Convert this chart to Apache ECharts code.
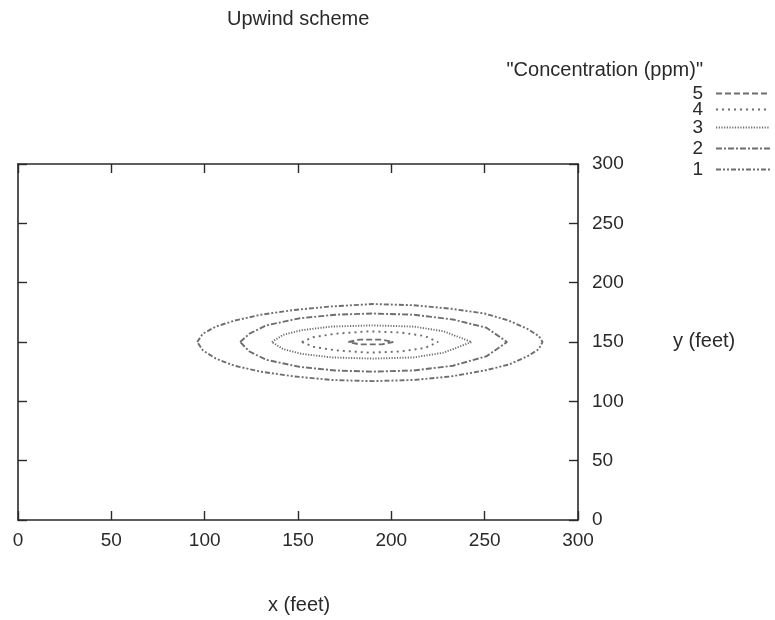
<!DOCTYPE html>
<html>
<head>
<meta charset="utf-8">
<title>Upwind scheme</title>
<script src="https://cdn.jsdelivr.net/npm/echarts@6/dist/echarts.min.js"></script>
<style>
  html, body { margin: 0; padding: 0; background: #ffffff; }
  #chart { width: 775px; height: 620px; }
</style>
</head>
<body>
<div id="chart"></div>
<script>
// Contour levels of concentration (ppm), listed as in the key
const levels = ['5', '4', '3', '2', '1'];

// Contour polylines, [x (feet), y (feet)]
const contour1 = [[96,150],[99,157],[106,163],[116,168],[130,173],[148,177],[168,180],[190,182],[212,181],[232,178],[250,174],[263,168],[273,161],[279,155],[281,150],[279,144],[273,138],[263,131],[250,126],[232,121],[212,118],[190,117],[168,118],[148,121],[130,125],[116,130],[106,136],[99,143],[96,150]];
const contour2 = [[119,150],[124,157],[133,164],[151,170],[170,173],[190,174],[212,173],[233,169],[251,162],[262,150],[251,138],[233,130],[212,126],[190,125],[170,126],[151,129],[133,135],[124,142],[119,150]];
const contour3 = [[136,150],[142,156],[152,160],[168,163],[190,164],[212,163],[228,159],[243,150],[228,141],[212,137],[190,136],[168,137],[152,140],[142,144],[136,150]];
const contour4 = [[152,150],[158,154],[170,157],[188,159],[205,158],[218,155],[225,150],[218,145],[205,142],[188,141],[170,143],[158,146],[152,150]];
const contour5 = [[177,150],[183,152],[195,152],[201,150],[195,148],[183,148],[177,150]];

// Axis ticks
const xTicks = [0, 50, 100, 150, 200, 250, 300];
const yTicks = [0, 50, 100, 150, 200, 250, 300];

const contours = { '1': contour1, '2': contour2, '3': contour3, '4': contour4, '5': contour5 };

// Dash pattern per level
const dashes = {
  '5': [6, 3],
  '4': [2, 4],
  '3': [1.2, 1.5],
  '2': [6, 2, 2, 2],
  '1': [5, 2, 2, 2, 2, 2]
};

const FONT = 'Liberation Sans, Arial, Helvetica, sans-serif';
const INK = '#2a2a2a';
const LINE = '#6e6e6e';

const chart = echarts.init(document.getElementById('chart'), null, { renderer: 'canvas' });

function valueAxis(ticks, position, showLabel) {
  return {
    type: 'value',
    position: position,
    min: ticks[0],
    max: ticks[ticks.length - 1],
    interval: ticks[1] - ticks[0],
    splitLine: { show: false },
    axisLine: { show: true, onZero: false, lineStyle: { color: INK, width: 1.6 } },
    axisTick: { show: true, inside: true, length: 9, lineStyle: { color: INK, width: 1.4 } },
    axisLabel: showLabel
      ? { show: true, fontFamily: FONT, fontSize: 19, color: INK, margin: position === 'right' ? 14 : 11 }
      : { show: false }
  };
}

// Vertical position (px) of each key row
const legendRowsY = { '5': 92, '4': 108, '3': 126, '2': 147, '1': 168 };

const option = {
  animation: false,
  backgroundColor: '#ffffff',
  grid: { left: 18, right: 197, top: 164, bottom: 100, containLabel: false },
  xAxis: [
    valueAxis(xTicks, 'bottom', true),
    valueAxis(xTicks, 'top', false)
  ],
  yAxis: [
    valueAxis(yTicks, 'left', false),
    valueAxis(yTicks, 'right', true)
  ],
  legend: levels.map(function (lv) {
    return {
      data: [lv],
      orient: 'horizontal',
      align: 'right',
      right: 4,
      top: legendRowsY[lv] - 8,
      itemWidth: 54,
      itemHeight: 16,
      itemGap: 0,
      padding: 0,
      selectedMode: false,
      itemStyle: { opacity: 0 },
      textStyle: { fontFamily: FONT, fontSize: 19, color: INK, padding: [0, 8, 0, 0] }
    };
  }),
  graphic: [
    { type: 'text', left: 227, top: 9, style: { text: 'Upwind scheme', fontFamily: FONT, fontSize: 20, fill: INK } },
    { type: 'text', right: 72, top: 60, style: { text: '"Concentration (ppm)"', fontFamily: FONT, fontSize: 20, fill: INK } },
    { type: 'text', left: 673, top: 331, style: { text: 'y (feet)', fontFamily: FONT, fontSize: 20, fill: INK } },
    { type: 'text', left: 268, top: 595, style: { text: 'x (feet)', fontFamily: FONT, fontSize: 20, fill: INK } }
  ],
  series: levels.map(function (lv) {
    return {
      name: lv,
      type: 'line',
      xAxisIndex: 0,
      yAxisIndex: 0,
      data: contours[lv],
      symbol: 'circle',
      showSymbol: false,
      smooth: false,
      silent: true,
      lineStyle: { color: LINE, width: 1.9, type: dashes[lv] },
      itemStyle: { color: LINE }
    };
  })
};

chart.setOption(option);
</script>
</body>
</html>
